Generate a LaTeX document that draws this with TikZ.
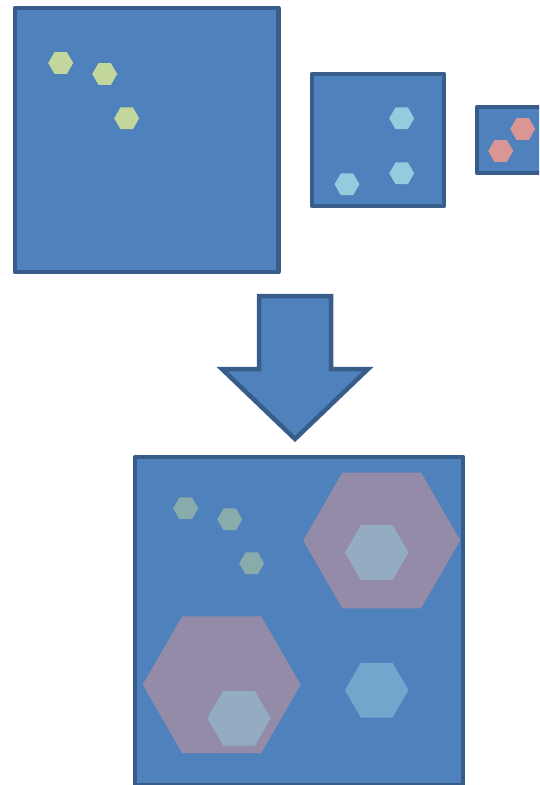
\documentclass[tikz,border=0pt]{standalone}
\usetikzlibrary{shapes.geometric}

\definecolor{boxblue}{HTML}{4F81BD}
\definecolor{boxedge}{HTML}{385D8A}
\definecolor{hexgreen}{HTML}{C3D69B}
\definecolor{hexcyan}{HTML}{93CDDD}
\definecolor{hexred}{HTML}{D99694}

\tikzset{
	box/.style={draw=boxedge, fill=boxblue, line width=4.5pt, line join=round},
	hex/.style={regular polygon, regular polygon sides=6, minimum size=25pt, inner sep=0pt, draw=none},
	faded/.style={fill opacity=0.5},
}

\begin{document}
\begin{tikzpicture}[x=1pt, y=-1pt]
		\useasboundingbox (0, 0) rectangle (539, 785);
		\clip (0, 0) rectangle (539, 785);

		% three source boxes
		\draw[box] (15, 8) rectangle (278.5, 272);
		\node[hex, fill=hexgreen] (g1) at (60.7, 63) {};
		\node[hex, fill=hexgreen] (g2) at (104.7, 74) {};
		\node[hex, fill=hexgreen] (g3) at (126.7, 118.3) {};

		\draw[box] (312, 74) rectangle (444, 206);
		\node[hex, fill=hexcyan] (c1) at (401.7, 118.3) {};
		\node[hex, fill=hexcyan] (c2) at (401.7, 173.3) {};
		\node[hex, fill=hexcyan] (c3) at (347, 184.3) {};

		\draw[box] (477, 107) rectangle (543, 173);
		\node[hex, fill=hexred] (r1) at (522.7, 129) {};
		\node[hex, fill=hexred] (r2) at (500.7, 151) {};

		% merge arrow
		\draw[box, line join=miter] (259, 296) -- (331, 296) -- (331, 369) -- (368, 369)
			-- (295, 439) -- (222, 369) -- (259, 369) -- cycle;

		% merged box
		\draw[box] (135, 457) rectangle (463, 785);
		\node[hex, faded, fill=hexgreen] (mg1) at (185.7, 508.3) {};
		\node[hex, faded, fill=hexgreen] (mg2) at (229.7, 519.3) {};
		\node[hex, faded, fill=hexgreen] (mg3) at (251.7, 563.3) {};
		\node[hex, faded, fill=hexred, minimum size=157pt] (mr1) at (381.7, 540.5) {};
		\node[hex, faded, fill=hexcyan, minimum size=63.4pt] (mc1) at (376.7, 552.5) {};
		\node[hex, faded, fill=hexred, minimum size=158pt] (mr2) at (221.7, 684.7) {};
		\node[hex, faded, fill=hexcyan, minimum size=63.4pt] (mc2) at (239, 718.2) {};
		\node[hex, faded, fill=hexcyan, minimum size=63.4pt] (mc3) at (376.7, 690.2) {};
	\end{tikzpicture}
\end{document}
